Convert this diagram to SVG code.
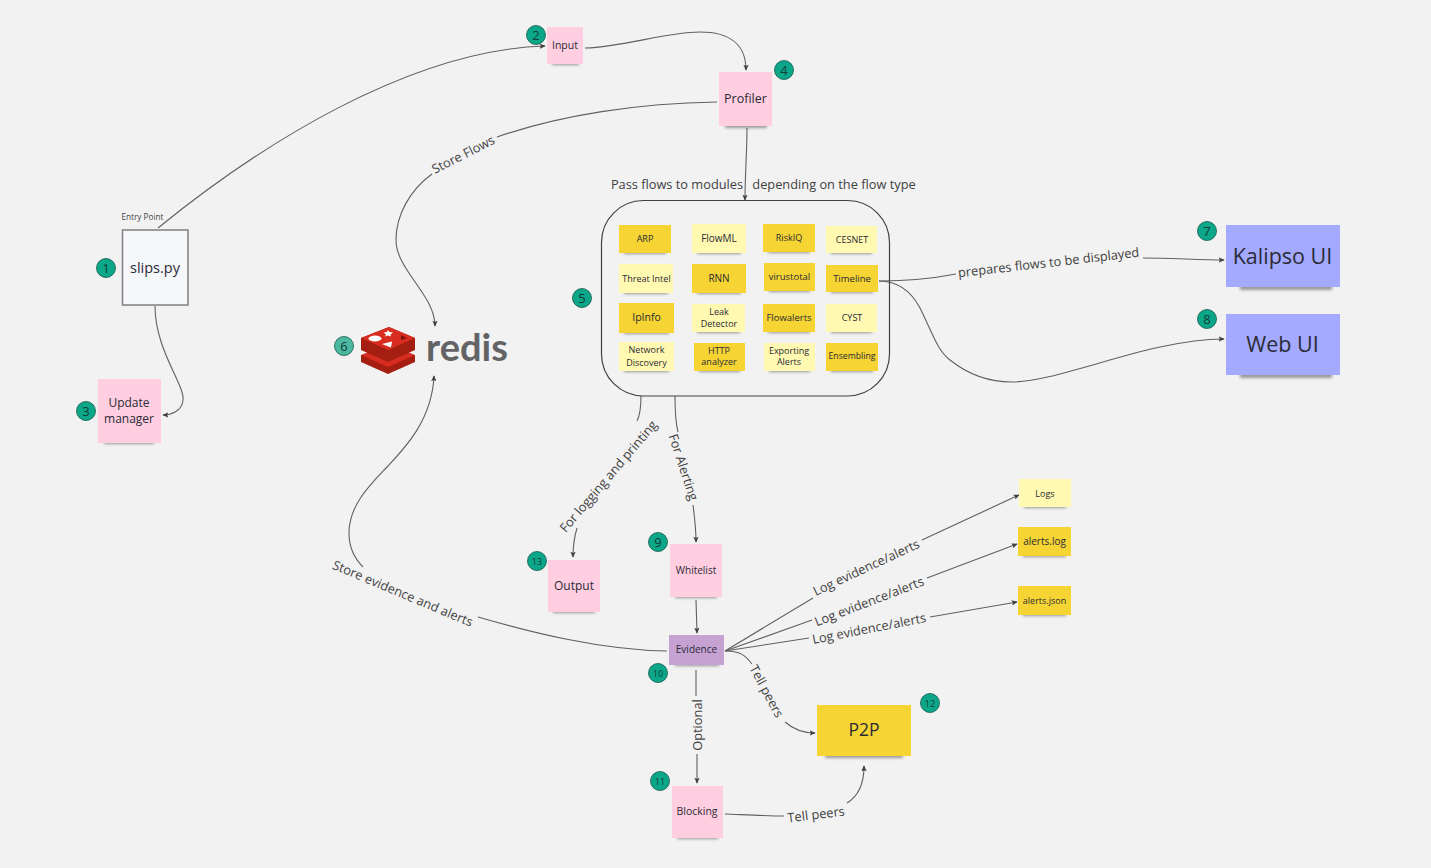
<svg xmlns="http://www.w3.org/2000/svg" width="1431" height="868" viewBox="0 0 1431 868">
<style>
text{font-family:"Open Sans","Noto Sans","DejaVu Sans",sans-serif;fill:#2b2b36;text-anchor:middle;dominant-baseline:central}
.c path,.c line{fill:none;stroke:#606060;stroke-width:1.1}
.a{marker-end:url(#arrow)}
.l{fill:#414141;font-size:12.8px}
.sh{fill:#2a2a2a;opacity:.45;filter:url(#blur)}
.pink{fill:#ffcee0}.yel{fill:#f5d433}.lyel{fill:#fff9b1}.blue{fill:#a3aaff}.pur{fill:#c6a2d3}
.b circle{fill:#0ca789;stroke:#14584a;stroke-width:.8}
.b text{font-size:13px;fill:#123d38}
.b .t{font-size:9px}
.m{font-size:9px}
</style>
<defs>
<marker id="arrow" viewBox="0 0 8 8" refX="7" refY="4" markerWidth="6" markerHeight="6" markerUnits="userSpaceOnUse" orient="auto"><path d="M0,0.5L8,4L0,7.5L1.5,4Z" fill="#404040"/></marker>
<filter id="blur" x="-20%" y="-100%" width="140%" height="300%"><feGaussianBlur stdDeviation="1.4"/></filter>
</defs>
<rect width="1431" height="868" fill="#f2f2f2"/>

<g id="connectors" class="c">
<path class="a" d="M158,228C260,145 410,50 545,46"/>
<path class="a" d="M585,48C625,47 665,32 700,32C730,32 746,45 746,70"/>
<path d="M717,102C640,103 560,115 497,137"/>
<path class="a" d="M432,174C410,190 396,215 396,240C396,270 435,295 435,326"/>
<path class="a" d="M747,128C747,150 745,175 745,200"/>
<path class="a" d="M155,306C155,350 185,385 183,400C182,412 170,415 163,415"/>
<path d="M641,396C641,405 640,415 637,421"/>
<path class="a" d="M577,528C574,538 573,548 573,557"/>
<path d="M675,396C675,410 675,420 678,432"/>
<path class="a" d="M693,505C695,520 696,530 696,542"/>
<path class="a" d="M696,600L697,633"/>
<path d="M667,651C600,650 530,632 478,617"/>
<path class="a" d="M363,567C354,558 349,547 349,533C349,505 370,485 387,467C405,448 432,420 434,376"/>
<path d="M725,651L813,598"/>
<path class="a" d="M922,540L1019,495"/>
<path d="M725,651L812,620"/>
<path class="a" d="M927,578L1017,544"/>
<path d="M725,651L809,638"/>
<path class="a" d="M930,617L1017,602"/>
<path d="M725,651C740,651 745,655 752,664"/>
<path class="a" d="M785,722C793,729 803,733 815,733"/>
<path d="M696,670L696,696"/>
<path class="a" d="M697,754L697,783"/>
<path d="M725,814C750,815 770,816 784,816"/>
<path class="a" d="M847,803C857,797 864,785 864,766"/>
<path d="M879,281C900,281 930,279 956,274"/>
<path class="a" d="M1143,258C1170,258 1200,260 1224,260"/>
<path class="a" d="M879,281C900,281 912,293 920,308C932,332 937,350 950,360C970,376 990,382 1012,382C1060,382 1150,339 1224,339"/>
</g>

<g id="connector-labels">
<text class="l" x="463" y="154" transform="rotate(-27 463 154)">Store Flows</text>
<text class="l" y="184"><tspan x="677">Pass flows to modules</tspan><tspan x="834">depending on the flow type</tspan></text>
<text class="l" x="608" y="476" transform="rotate(-49.5 608 476)">For logging and printing</text>
<text class="l" x="684" y="467" transform="rotate(72 684 467)">For Alerting</text>
<text class="l" x="403" y="593" transform="rotate(22.8 403 593)">Store evidence and alerts</text>
<text class="l" x="866" y="567" transform="rotate(-25 866 567)">Log evidence/alerts</text>
<text class="l" x="869" y="601" transform="rotate(-21 869 601)">Log evidence/alerts</text>
<text class="l" x="869" y="628" transform="rotate(-11 869 628)">Log evidence/alerts</text>
<text class="l" x="767" y="691" transform="rotate(62 767 691)">Tell peers</text>
<text class="l" x="697" y="725" transform="rotate(-90 697 725)">Optional</text>
<text class="l" x="816" y="814" transform="rotate(-7 816 814)">Tell peers</text>
<text class="l" x="1048.500" y="262" transform="rotate(-6.5 1048.500 262)">prepares flows to be displayed</text>
<text x="142.500" y="216.500" style="font-size:8.2px;fill:#444">Entry Point</text>
</g>

<g id="slips"><rect x="122.500" y="230" width="65.500" height="75" fill="#f5f7fa" stroke="#808080" stroke-width="1.500"/><text x="155" y="267.500" font-size="14.500">slips.py</text></g>
<g id="update-manager"><rect class="sh" x="104" y="438" width="50" height="6"/><rect class="pink" x="98" y="379" width="63" height="64"/><text x="129" y="402" font-size="12">Update</text><text x="129" y="418" font-size="12">manager</text></g>
<g id="input"><rect class="sh" x="552" y="60" width="27" height="5"/><rect class="pink" x="547" y="27" width="36" height="37"/><text x="565" y="45" font-size="10.500">Input</text></g>
<g id="profiler"><rect class="sh" x="725" y="122" width="42" height="6"/><rect class="pink" x="719" y="72" width="53" height="54"/><text x="745.500" y="98" font-size="12.500">Profiler</text></g>

<g id="modules"><rect x="601.500" y="200.500" width="288" height="195.500" rx="42" fill="none" stroke="#404040" stroke-width="1.200"/></g>
<g id="arp"><rect class="sh" x="624" y="250" width="42" height="4"/><rect class="yel" x="619" y="225" width="52" height="28"/><text class="m" x="645" y="238.500">ARP</text></g>
<g id="flowml"><rect class="sh" x="697" y="250" width="44" height="4"/><rect class="lyel" x="692" y="224" width="54" height="29"/><text x="719" y="238" font-size="10">FlowML</text></g>
<g id="riskiq"><rect class="sh" x="768" y="249" width="42" height="4"/><rect class="yel" x="763" y="224" width="52" height="28"/><text class="m" x="789" y="237.500">RiskIQ</text></g>
<g id="cesnet"><rect class="sh" x="831" y="250" width="41" height="4"/><rect class="lyel" x="826" y="226" width="51" height="27"/><text class="m" x="852" y="239">CESNET</text></g>
<g id="threat-intel"><rect class="sh" x="624" y="290" width="44" height="4"/><rect class="lyel" x="619" y="264" width="54" height="29"/><text class="m" x="646.500" y="278.500">Threat Intel</text></g>
<g id="rnn"><rect class="sh" x="697" y="290" width="44" height="4"/><rect class="yel" x="692" y="264" width="54" height="29"/><text x="719" y="278" font-size="10">RNN</text></g>
<g id="virustotal"><rect class="sh" x="769" y="288" width="41" height="4"/><rect class="yel" x="764" y="263" width="51" height="28"/><text x="789.500" y="276.500" font-size="9.500">virustotal</text></g>
<g id="timeline"><rect class="sh" x="831" y="289" width="42" height="4"/><rect class="yel" x="826" y="265" width="52" height="27"/><text x="852" y="278.500" font-size="9.500">Timeline</text></g>
<g id="ipinfo"><rect class="sh" x="624" y="330" width="45" height="4"/><rect class="yel" x="619" y="303" width="55" height="30"/><text x="646.500" y="317" font-size="10.500">IpInfo</text></g>
<g id="leak-detector"><rect class="sh" x="697" y="329" width="43" height="4"/><rect class="lyel" x="692" y="304" width="53" height="28"/><text class="m" x="719" y="311.500">Leak</text><text class="m" x="719" y="323.500">Detector</text></g>
<g id="flowalerts"><rect class="sh" x="768" y="329" width="42" height="4"/><rect class="yel" x="763" y="304" width="52" height="28"/><text x="789" y="317.500" font-size="9.500">Flowalerts</text></g>
<g id="cyst"><rect class="sh" x="831" y="329" width="41" height="4"/><rect class="lyel" x="826" y="304" width="51" height="28"/><text class="m" x="852" y="317.500">CYST</text></g>
<g id="network-discovery"><rect class="sh" x="624" y="368" width="45" height="4"/><rect class="lyel" x="619" y="342" width="55" height="29"/><text class="m" x="646.500" y="349.500">Network</text><text class="m" x="646.500" y="362.500">Discovery</text></g>
<g id="http-analyzer"><rect class="sh" x="699" y="368" width="41" height="4"/><rect class="yel" x="694" y="343" width="51" height="28"/><text class="m" x="719" y="350.500">HTTP</text><text class="m" x="719" y="361.500">analyzer</text></g>
<g id="exporting-alerts"><rect class="sh" x="769" y="368" width="41" height="4"/><rect class="lyel" x="764" y="343" width="51" height="28"/><text class="m" x="789" y="350.500">Exporting</text><text class="m" x="789" y="361.500">Alerts</text></g>
<g id="ensembling"><rect class="sh" x="831" y="368" width="42" height="4"/><rect class="yel" x="826" y="343" width="52" height="28"/><text x="852" y="355.500" font-size="8.700">Ensembling</text></g>

<g id="redis">
<path d="M361,362V369L388,381L415,369V362Z" fill="#a41e11" transform="translate(0,-7)"/>
<path d="M361,362L389,351L415,362L388,374Z" fill="#d82c20" transform="translate(0,-7)"/>
<path d="M361,350V357L388,369L415,357V350Z" fill="#a41e11" transform="translate(0,-7)"/>
<path d="M361,350L389,339L415,350L388,362Z" fill="#d82c20" transform="translate(0,-7)"/>
<path d="M361,338V345L388,357L415,345V338L389,327Z" fill="#a41e11"/>
<path d="M361,338L389,327L415,338L388,350Z" fill="#d82c20"/>
<ellipse cx="375" cy="338.500" rx="6.500" ry="3" fill="#fff"/>
<path d="M388,330L389.500,332L393,332.500L390.500,334.500L391,336.500L388,335.500L385,336.500L386,334.500L383.500,332.500L387,332Z" fill="#fff"/>
<path d="M382,344L392,341.500L391,347.500Z" fill="#fff"/>
<path d="M401,335L407,338L401,340Z" fill="#7a1509"/>
<text x="467" y="346" font-size="38" font-weight="700" style="font-family:Lato,'Open Sans',sans-serif;fill:#636366">redis</text>
</g>

<g id="kalipso-ui"><rect class="sh" x="1240" y="284" width="92" height="6"/><rect class="blue" x="1226" y="225" width="114" height="62"/><text x="1282.500" y="255.500" font-size="21.500">Kalipso UI</text></g>
<g id="web-ui"><rect class="sh" x="1240" y="372" width="92" height="6"/><rect class="blue" x="1226" y="314" width="114" height="61"/><text x="1282.500" y="343.500" font-size="21.500">Web UI</text></g>
<g id="logs"><rect class="sh" x="1024" y="504" width="42" height="4"/><rect class="lyel" x="1019" y="479" width="52" height="28"/><text class="m" x="1045" y="493.500">Logs</text></g>
<g id="alerts-log"><rect class="sh" x="1023" y="553" width="43" height="4"/><rect class="yel" x="1018" y="527" width="53" height="29"/><text x="1044.500" y="541" font-size="10">alerts.log</text></g>
<g id="alerts-json"><rect class="sh" x="1023" y="612" width="43" height="4"/><rect class="yel" x="1018" y="586" width="53" height="29"/><text class="m" x="1044.500" y="600.500">alerts.json</text></g>
<g id="output"><rect class="sh" x="553" y="608" width="42" height="5"/><rect class="pink" x="548" y="560" width="52" height="52"/><text x="574" y="585.500" font-size="12">Output</text></g>
<g id="whitelist"><rect class="sh" x="675" y="593" width="42" height="5"/><rect class="pink" x="670" y="544" width="52" height="53"/><text x="696" y="570" font-size="10">Whitelist</text></g>
<g id="evidence"><rect class="sh" x="675" y="662" width="44" height="4"/><rect class="pur" x="669" y="635" width="55" height="30"/><text x="696.500" y="649" font-size="10">Evidence</text></g>
<g id="blocking"><rect class="sh" x="677" y="834" width="41" height="5"/><rect class="pink" x="672" y="786" width="51" height="52"/><text x="697" y="811" font-size="10.500">Blocking</text></g>
<g id="p2p"><rect class="sh" x="825" y="752" width="78" height="6"/><rect class="yel" x="817" y="705" width="94" height="51"/><text x="864" y="729" font-size="17.500">P2P</text></g>

<g id="badges" class="b">
<g><circle cx="106" cy="268" r="9.500"/><text x="106" y="268">1</text></g>
<g><circle cx="536" cy="35" r="9.500"/><text x="536" y="35">2</text></g>
<g><circle cx="86" cy="411" r="9.500"/><text x="86" y="411">3</text></g>
<g><circle cx="784" cy="70" r="9.500"/><text x="784" y="70">4</text></g>
<g><circle cx="582" cy="298" r="9.500"/><text x="582" y="298">5</text></g>
<g><circle cx="344" cy="346" r="9.500" style="fill:#4bb89f"/><text x="344" y="346">6</text></g>
<g><circle cx="1207" cy="231" r="9.500"/><text x="1207" y="231">7</text></g>
<g><circle cx="1207" cy="319" r="9.500"/><text x="1207" y="319">8</text></g>
<g><circle cx="658" cy="542" r="9.500"/><text x="658" y="542">9</text></g>
<g><circle cx="658" cy="673" r="9.500"/><text class="t" x="658" y="673">10</text></g>
<g><circle cx="660" cy="781" r="9.500"/><text class="t" x="660" y="781">11</text></g>
<g><circle cx="930" cy="703" r="9.500"/><text class="t" x="930" y="703">12</text></g>
<g><circle cx="537" cy="561" r="9.500"/><text class="t" x="537" y="561">13</text></g>
</g>
</svg>
